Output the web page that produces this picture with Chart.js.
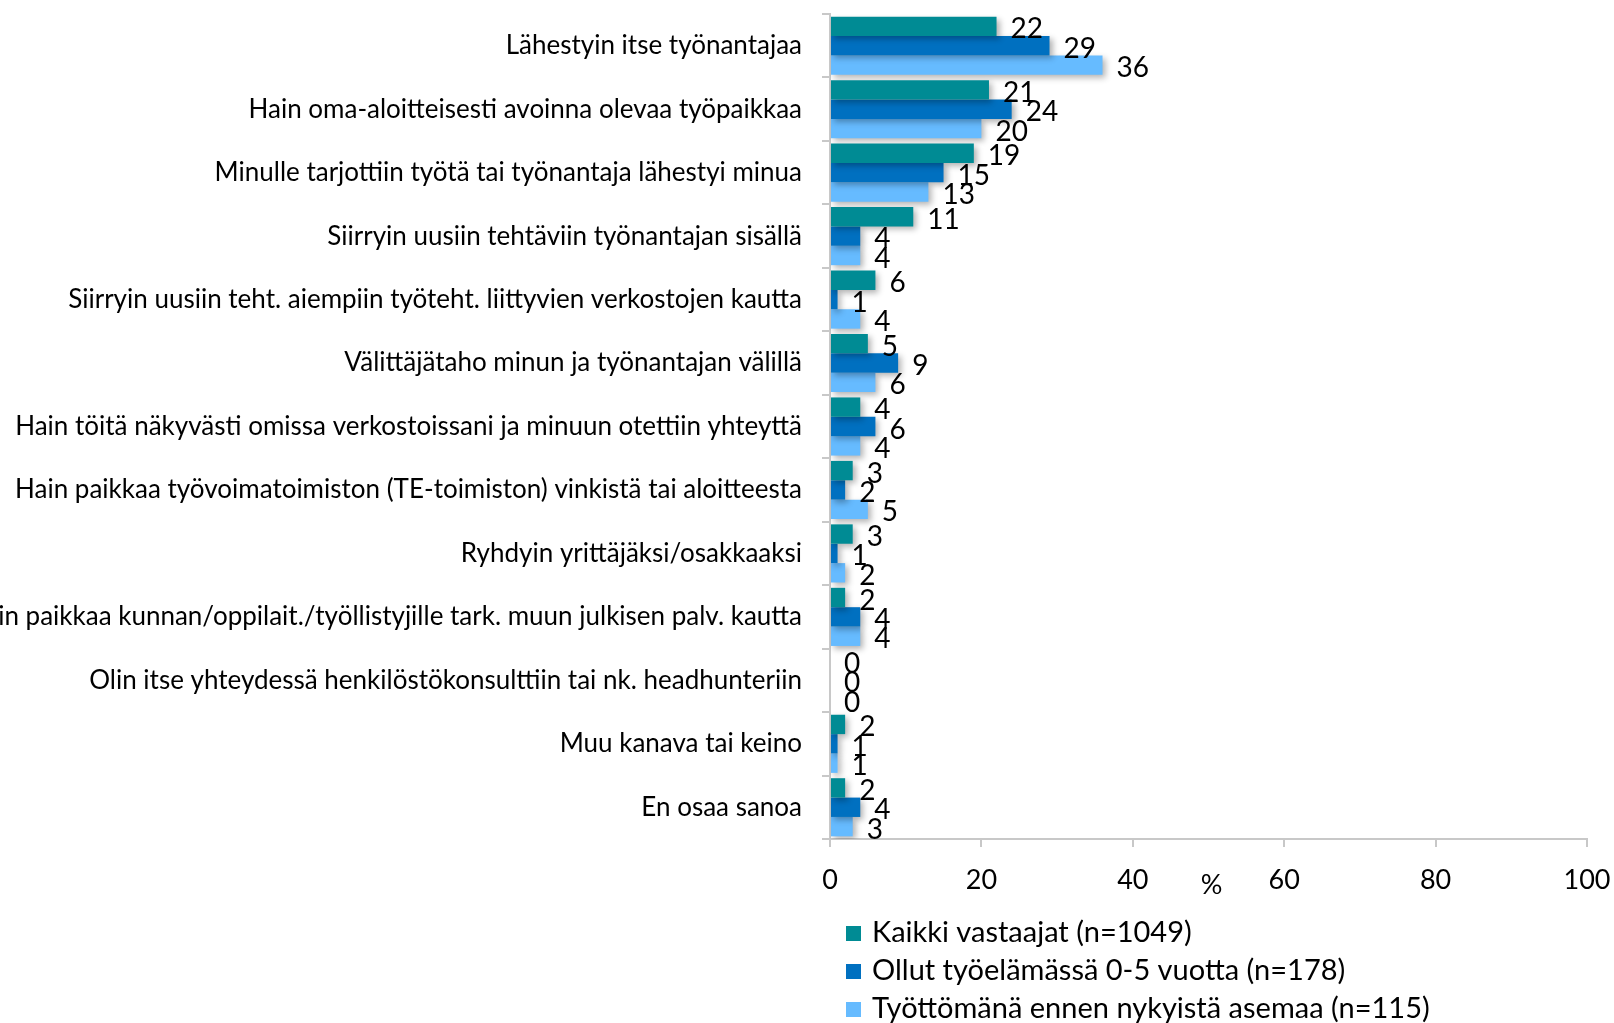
<!DOCTYPE html>
<html>
<head>
<meta charset="utf-8">
<script src="https://cdn.jsdelivr.net/npm/chart.js@4.4.1/dist/chart.umd.min.js"></script>
<style>
  html, body { margin: 0; padding: 0; background: #fff; }
  #wrap { width: 1614px; height: 1023px; position: relative; }
</style>
</head>
<body>
<div id="wrap"><canvas id="chart"></canvas></div>
<script>
// Data
const categories = [
  'Lähestyin itse työnantajaa',
  'Hain oma-aloitteisesti avoinna olevaa työpaikkaa',
  'Minulle tarjottiin työtä tai työnantaja lähestyi minua',
  'Siirryin uusiin tehtäviin työnantajan sisällä',
  'Siirryin uusiin teht. aiempiin työteht. liittyvien verkostojen kautta',
  'Välittäjätaho minun ja työnantajan välillä',
  'Hain töitä näkyvästi omissa verkostoissani ja minuun otettiin yhteyttä',
  'Hain paikkaa työvoimatoimiston (TE-toimiston) vinkistä tai aloitteesta',
  'Ryhdyin yrittäjäksi/osakkaaksi',
  'Hain paikkaa kunnan/oppilait./työllistyjille tark. muun julkisen palv. kautta',
  'Olin itse yhteydessä henkilöstökonsulttiin tai nk. headhunteriin',
  'Muu kanava tai keino',
  'En osaa sanoa'
];
const seriesNames = [
  'Kaikki vastaajat (n=1049)',
  'Ollut työelämässä 0-5 vuotta (n=178)',
  'Työttömänä ennen nykyistä asemaa (n=115)'
];
const allRespondents = [22, 21, 19, 11, 6, 5, 4, 3, 3, 2, 0, 2, 2];
const earlyCareer    = [29, 24, 15, 4, 1, 9, 6, 2, 1, 4, 0, 1, 4];
const wasUnemployed  = [36, 20, 13, 4, 4, 6, 4, 5, 2, 4, 0, 1, 3];
const xTicks = [0, 20, 40, 60, 80, 100];
const axisTitle = '%';

const colors = ['#008b94', '#0070c0', '#66bbff'];
const FONT = 'Lato, "Open Sans", sans-serif';

// numbers at the end of each bar
const valueLabels = {
  id: 'valueLabels',
  afterDatasetsDraw(chart) {
    const ctx = chart.ctx;
    ctx.save();
    ctx.font = '28px ' + FONT;
    ctx.fillStyle = '#000';
    ctx.textBaseline = 'middle';
    ctx.textAlign = 'left';
    chart.data.datasets.forEach((ds, i) => {
      chart.getDatasetMeta(i).data.forEach((bar, j) => {
        ctx.fillText(String(ds.data[j]), bar.x + 14, bar.y + 3);
      });
    });
    ctx.restore();
  }
};

// soft shadow behind bars
const barShadow = {
  id: 'barShadow',
  beforeDatasetDraw(chart) {
    const ctx = chart.ctx;
    ctx.save();
    ctx.shadowColor = 'rgba(0,0,0,0.3)';
    ctx.shadowBlur = 6;
    ctx.shadowOffsetX = 3;
    ctx.shadowOffsetY = 3;
  },
  afterDatasetDraw(chart) {
    chart.ctx.restore();
  }
};

// "%" sits in the tick label row, plus vertical legend below
const extras = {
  id: 'extras',
  afterDraw(chart) {
    const ctx = chart.ctx;
    const x = chart.scales.x;
    ctx.save();
    ctx.fillStyle = '#000';
    ctx.font = '27px ' + FONT;
    ctx.textAlign = 'center';
    ctx.textBaseline = 'middle';
    ctx.fillText(axisTitle, x.getPixelForValue(50) + 3, x.bottom - 138);

    ctx.font = '29px ' + FONT;
    ctx.textAlign = 'left';
    chart.data.datasets.forEach((ds, i) => {
      const y = chart.chartArea.bottom + 94 + i * 38;
      ctx.fillStyle = ds.backgroundColor;
      ctx.fillRect(846, y - 7, 15, 15);
      ctx.fillStyle = '#000';
      ctx.fillText(ds.label, 872, y);
    });
    ctx.restore();
  }
};

new Chart(document.getElementById('chart'), {
  type: 'bar',
  data: {
    labels: categories,
    datasets: [
      { label: seriesNames[0], data: allRespondents, backgroundColor: colors[0] },
      { label: seriesNames[1], data: earlyCareer, backgroundColor: colors[1] },
      { label: seriesNames[2], data: wasUnemployed, backgroundColor: colors[2] }
    ]
  },
  options: {
    indexAxis: 'y',
    responsive: true,
    maintainAspectRatio: false,
    animation: false,
    datasets: { bar: { barPercentage: 1, categoryPercentage: 0.916 } },
    layout: { padding: { top: 14, right: 27, left: 0, bottom: 0 } },
    plugins: {
      legend: { display: false },
      tooltip: { enabled: false }
    },
    scales: {
      x: {
        min: 0,
        max: 100,
        afterBuildTicks: s => { s.ticks = xTicks.map(v => ({ value: v })); },
        ticks: { color: '#000', font: { family: FONT, size: 27 }, padding: 17, maxRotation: 0 },
        grid: { drawOnChartArea: false, tickLength: 8, color: '#c8c8c8', lineWidth: 2 },
        border: { color: '#c8c8c8', width: 2 },
        afterFit: s => { s.height = 184; s.paddingLeft = 0; s.paddingRight = 0; }
      },
      y: {
        ticks: { color: '#000', font: { family: FONT, size: 26 }, padding: 20, autoSkip: false },
        grid: { drawOnChartArea: false, tickLength: 8, color: '#c8c8c8', lineWidth: 2, offset: true },
        border: { color: '#c8c8c8', width: 2 },
        afterFit: s => { s.width = 830; s.paddingTop = 0; s.paddingBottom = 0; }
      }
    }
  },
  plugins: [barShadow, valueLabels, extras]
});
</script>
</body>
</html>
